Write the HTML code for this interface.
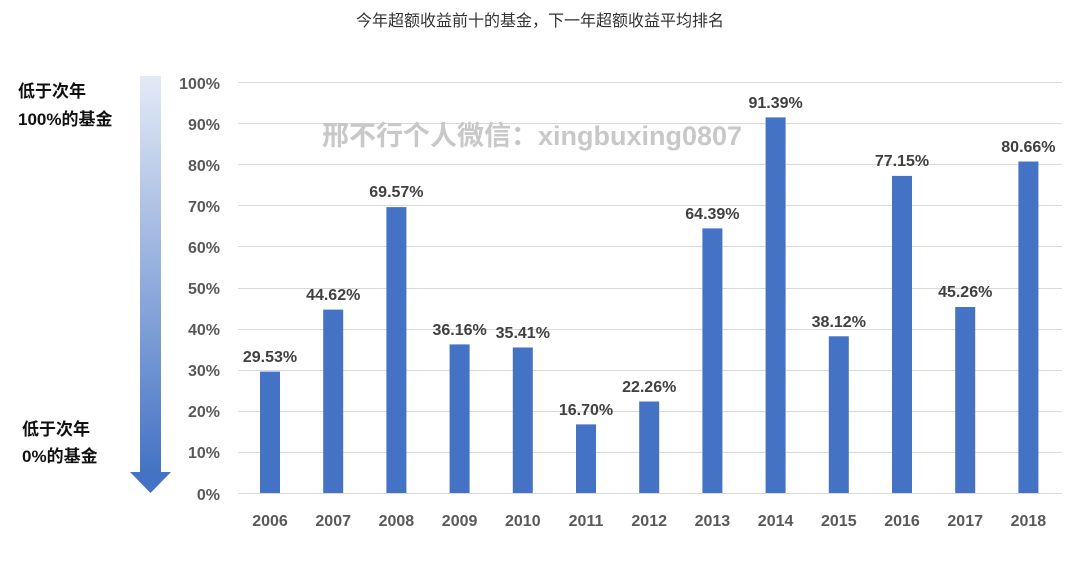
<!DOCTYPE html>
<html><head><meta charset="utf-8"><style>
html,body{margin:0;padding:0;background:#fff;}
svg text{font-family:"Liberation Sans","Noto Sans CJK SC",sans-serif;}
</style></head><body>
<svg width="1080" height="561" xmlns="http://www.w3.org/2000/svg">
<defs><linearGradient id="g" x1="0" y1="0" x2="0" y2="1">
<stop offset="0" stop-color="#e3eaf6"/><stop offset="1" stop-color="#4472c4"/></linearGradient></defs>
<rect width="1080" height="561" fill="#fff"/>
<text x="540" y="26" font-size="16" fill="#333" text-anchor="middle">今年超额收益前十的基金，下一年超额收益平均排名</text>
<g stroke="#d9d9d9" stroke-width="1">
<line x1="238" x2="1062" y1="82.5" y2="82.5"/><line x1="238" x2="1062" y1="123.5" y2="123.5"/>
<line x1="238" x2="1062" y1="164.5" y2="164.5"/><line x1="238" x2="1062" y1="205.5" y2="205.5"/>
<line x1="238" x2="1062" y1="246.5" y2="246.5"/><line x1="238" x2="1062" y1="288.5" y2="288.5"/>
<line x1="238" x2="1062" y1="329.5" y2="329.5"/><line x1="238" x2="1062" y1="370.5" y2="370.5"/>
<line x1="238" x2="1062" y1="411.5" y2="411.5"/><line x1="238" x2="1062" y1="452.5" y2="452.5"/>
<line x1="238" x2="1062" y1="493.5" y2="493.5"/>
</g>
<g font-size="16" font-weight="bold" fill="#595959" text-anchor="end">
<text x="220" y="89">100%</text><text x="220" y="130">90%</text><text x="220" y="171">80%</text>
<text x="220" y="212">70%</text><text x="220" y="253">60%</text><text x="220" y="294">50%</text>
<text x="220" y="335">40%</text><text x="220" y="376">30%</text><text x="220" y="417">20%</text>
<text x="220" y="458">10%</text><text x="220" y="500">0%</text>
</g>
<rect x="140" y="76" width="21" height="398" fill="url(#g)"/>
<polygon points="130,472 171,472 150.5,493" fill="#4472c4"/>
<g font-size="17" fill="#111" font-weight="bold">
<text x="18" y="97">低于次年</text><text x="18" y="125">100%的基金</text>
<text x="22" y="435">低于次年</text><text x="22" y="462">0%的基金</text>
</g>
<text x="532" y="145" font-size="27" font-weight="bold" fill="#c8c8c8" text-anchor="middle">邢不行个人微信：xingbuxing0807</text>
<g fill="#4472c4">
<rect x="260" y="371.6" width="20" height="121.4"/>
<rect x="323.2" y="309.6" width="20" height="183.4"/>
<rect x="386.4" y="207.1" width="20" height="285.9"/>
<rect x="449.6" y="344.4" width="20" height="148.6"/>
<rect x="512.8" y="347.5" width="20" height="145.5"/>
<rect x="576" y="424.4" width="20" height="68.6"/>
<rect x="639.2" y="401.5" width="20" height="91.5"/>
<rect x="702.4" y="228.4" width="20" height="264.6"/>
<rect x="765.6" y="117.4" width="20" height="375.6"/>
<rect x="828.8" y="336.3" width="20" height="156.7"/>
<rect x="892" y="175.9" width="20" height="317.1"/>
<rect x="955.2" y="307" width="20" height="186"/>
<rect x="1018.4" y="161.5" width="20" height="331.5"/>
</g>
<g font-size="16" font-weight="bold" fill="#404040" text-anchor="middle">
<text x="270" y="362">29.53%</text><text x="333.2" y="300">44.62%</text><text x="396.4" y="197">69.57%</text>
<text x="459.6" y="335">36.16%</text><text x="522.8" y="338">35.41%</text><text x="586" y="415">16.70%</text>
<text x="649.2" y="392">22.26%</text><text x="712.4" y="219">64.39%</text><text x="775.6" y="108">91.39%</text>
<text x="838.8" y="327">38.12%</text><text x="902" y="166">77.15%</text><text x="965.2" y="297">45.26%</text>
<text x="1028.4" y="152">80.66%</text>
</g>
<g font-size="16" font-weight="bold" fill="#595959" text-anchor="middle">
<text x="270" y="526">2006</text><text x="333.2" y="526">2007</text><text x="396.4" y="526">2008</text>
<text x="459.6" y="526">2009</text><text x="522.8" y="526">2010</text><text x="586" y="526">2011</text>
<text x="649.2" y="526">2012</text><text x="712.4" y="526">2013</text><text x="775.6" y="526">2014</text>
<text x="838.8" y="526">2015</text><text x="902" y="526">2016</text><text x="965.2" y="526">2017</text>
<text x="1028.4" y="526">2018</text>
</g>
</svg>
</body></html>
